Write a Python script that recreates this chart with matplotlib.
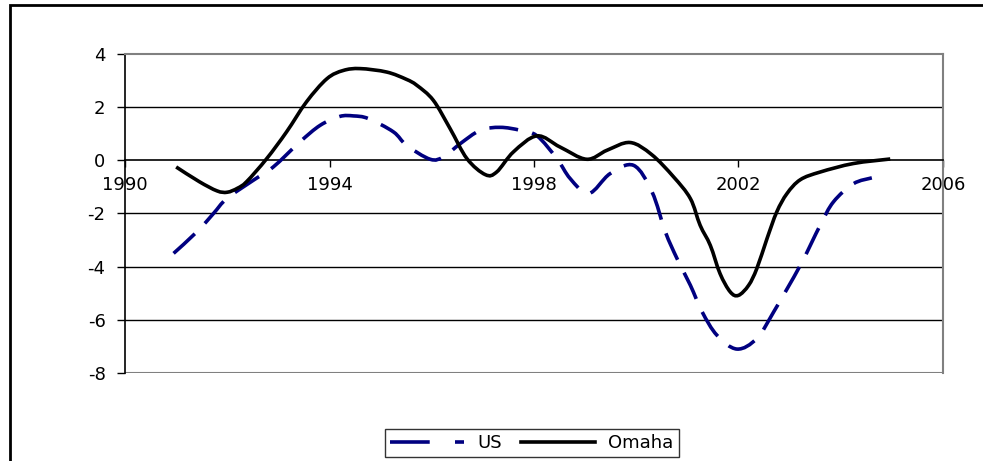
import numpy as np
import matplotlib
matplotlib.use("Agg")
from matplotlib import pyplot as plt
from matplotlib.patches import Rectangle, PathPatch
from matplotlib.path import Path
from matplotlib.lines import Line2D

omaha_years = [1991.0, 1991.45, 1991.8, 1992.0, 1992.2, 1992.38, 1992.77, 1993.16,
               1993.55, 1993.95, 1994.27, 1994.6, 1995.12, 1995.5, 1995.71, 1996.03,
               1996.36, 1996.69, 1997.05, 1997.27, 1997.6, 1998.06, 1998.51, 1999.03,
               1999.43, 1999.88, 2000.3, 2000.73, 2001.06, 2001.25, 2001.45, 2001.64,
               2001.84, 2002.0, 2002.2, 2002.36, 2002.56, 2002.75, 2002.95, 2003.21,
               2003.6, 2004.25, 2004.97]
omaha_vals = [-0.25, -0.8, -1.15, -1.2, -1.05, -0.8, 0.06, 1.07,
              2.2, 3.07, 3.38, 3.45, 3.32, 3.05, 2.82, 2.26,
              1.19, 0.06, -0.54, -0.44, 0.32, 0.92, 0.5, 0.04,
              0.38, 0.67, 0.22, -0.62, -1.44, -2.44, -3.2, -4.26,
              -4.95, -5.08, -4.7, -4.07, -2.94, -1.94, -1.25, -0.73,
              -0.44, -0.12, 0.05]

us_years = [1990.95, 1991.4, 1991.73, 1991.99, 1992.51, 1992.9, 1993.42, 1993.82,
            1994.2, 1994.47, 1994.76, 1995.25, 1995.51, 1995.97, 1996.23, 1996.56,
            1996.95, 1997.34, 1997.73, 1998.06, 1998.45, 1998.71, 1999.07, 1999.49,
            1999.95, 2000.31, 2000.57, 2000.8, 2001.06, 2001.29, 2001.58, 2001.97,
            2002.36, 2002.69, 2003.21, 2003.6, 2003.86, 2004.25, 2004.61]
us_vals = [-3.5, -2.7, -2.0, -1.44, -0.75, -0.25, 0.69, 1.32,
           1.65, 1.67, 1.57, 1.07, 0.56, 0.04, 0.13, 0.63,
           1.13, 1.24, 1.13, 0.92, 0.06, -0.69, -1.25, -0.5,
           -0.19, -1.19, -2.69, -3.7, -4.7, -5.7, -6.58, -7.1,
           -6.7, -5.7, -3.95, -2.44, -1.56, -0.88, -0.66]

x_ticks = [1990, 1994, 1998, 2002, 2006]
y_ticks = [-8, -6, -4, -2, 0, 2, 4]


def smooth_path(xs, ys):
    # Excel-style smoothed line: cubic bezier through every point
    p = np.column_stack([xs, ys])
    ext = np.vstack([p[0], p, p[-1]])
    verts = [p[0]]
    codes = [Path.MOVETO]
    for i in range(len(p) - 1):
        c1 = ext[i + 1] + (ext[i + 2] - ext[i]) / 6
        c2 = ext[i + 2] - (ext[i + 3] - ext[i + 1]) / 6
        verts += [c1, c2, p[i + 1]]
        codes += [Path.CURVE4] * 3
    return Path(verts, codes)


plt.rcParams['font.family'] = ['DejaVu Sans']
plt.rcParams['font.size'] = 13
plt.rcParams['axes.unicode_minus'] = False

fig = plt.figure(figsize=(9.83, 4.61), dpi=100)
ax = fig.add_axes([0.1272, 0.1909, 0.832, 0.692])

# grid lines inside the plot area
for v in y_ticks[1:-1]:
    if v != 0:
        ax.axhline(v, color='black', lw=1, zorder=1)
ax.axhline(y_ticks[0], color='#808080', lw=1.5, zorder=1)

lw = 2.6
ax.add_patch(PathPatch(smooth_path(us_years, us_vals), fill=False, edgecolor='#000080',
                       lw=lw, linestyle=(0, (8, 4)), capstyle='butt', zorder=3))
ax.add_patch(PathPatch(smooth_path(omaha_years, omaha_vals), fill=False, edgecolor='black',
                       lw=lw, zorder=4))

ax.set_xlim(x_ticks[0], x_ticks[-1])
ax.set_ylim(y_ticks[0], y_ticks[-1])
ax.set_xticks(x_ticks)
ax.set_yticks(y_ticks)

ax.spines['bottom'].set_position(('data', 0))
ax.spines['bottom'].set_color('black')
ax.spines['left'].set_color('black')
ax.spines['top'].set_color('#808080')
ax.spines['right'].set_color('#808080')
for s in ax.spines.values():
    s.set_linewidth(1.2)
ax.spines['top'].set_linewidth(1.5)
ax.spines['right'].set_linewidth(1.5)

ax.tick_params(axis='x', direction='out', length=5, width=1, pad=6)
ax.tick_params(axis='y', direction='out', length=6, width=1, pad=8)

handles = [Line2D([], [], color='#000080', lw=lw, dashes=(11, 7, 2.5, 10)),
           Line2D([], [], color='black', lw=lw)]
leg = fig.legend(handles, ['US', 'Omaha'], loc='center', bbox_to_anchor=(0.541, 0.039),
                 ncol=2, frameon=True, fancybox=False, handlelength=4.1,
                 handletextpad=0.7, columnspacing=1.1, borderpad=0.3)
leg.get_frame().set_edgecolor('black')
leg.get_frame().set_linewidth(1)

# outer chart border
fig.patches.append(Rectangle((10 / 983, -0.1), 1.2, 1.1 - 5 / 461, transform=fig.transFigure,
                             fill=False, edgecolor='black', lw=2, clip_on=False))

fig.savefig('out.png', dpi=100)
plt.close(fig)
